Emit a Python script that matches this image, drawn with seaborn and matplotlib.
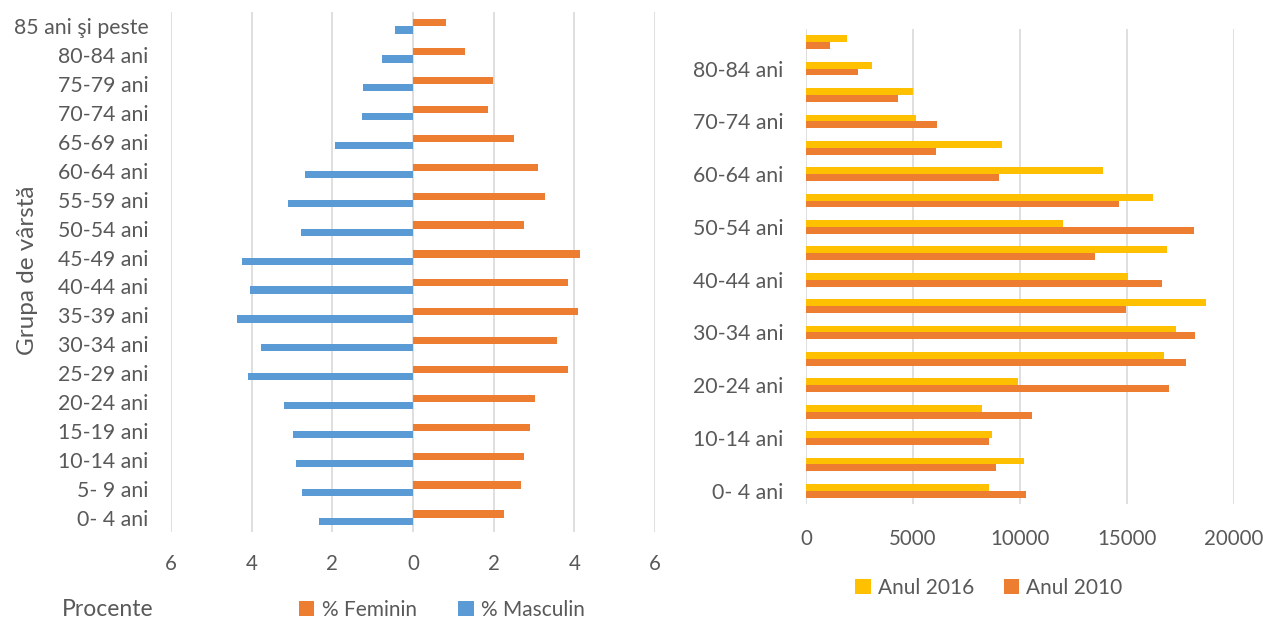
import matplotlib
matplotlib.use("Agg")
import matplotlib.pyplot as plt
import seaborn as sns
import pandas as pd

# ---- data ----
groups = ["0- 4 ani", "5- 9 ani", "10-14 ani", "15-19 ani", "20-24 ani", "25-29 ani",
          "30-34 ani", "35-39 ani", "40-44 ani", "45-49 ani", "50-54 ani", "55-59 ani",
          "60-64 ani", "65-69 ani", "70-74 ani", "75-79 ani", "80-84 ani", "85 ani şi peste"]
feminin = [2.25, 2.67, 2.74, 2.90, 3.02, 3.84, 3.56, 4.10, 3.85, 4.15, 2.74, 3.27,
           3.10, 2.51, 1.85, 1.98, 1.29, 0.83]
masculin = [2.32, 2.75, 2.89, 2.98, 3.19, 4.08, 3.76, 4.36, 4.03, 4.23, 2.78, 3.09,
            2.67, 1.94, 1.27, 1.23, 0.77, 0.45]
anul_2016 = [8530, 10200, 8700, 8230, 9890, 16710, 17300, 18700, 15050, 16890, 12030, 16220,
             13880, 9160, 5120, 4980, 3080, 1920]
anul_2010 = [10280, 8860, 8530, 10540, 16960, 17740, 18180, 14930, 16640, 13500, 18130, 14630,
             9040, 6080, 6140, 4280, 2410, 1100]
left_ticks = [-6, -4, -2, 0, 2, 4, 6]
right_ticks = [0, 5000, 10000, 15000, 20000]

ORANGE = "#ED7D31"
BLUE = "#5B9BD5"
YELLOW = "#FFC000"
GRID = "#D9D9D9"
TXT = "#595959"

sns.set_style("white")
plt.rcParams["font.family"] = ["Lato", "DejaVu Sans"]
FSY = 15.3
FSX = 14.8
FSL = 15

fig = plt.figure(figsize=(12.63, 6.21), dpi=100)
W, H = 1263, 621

def add_axes(x0, y0, x1, y1):
    return fig.add_axes([x0 / W, 1 - y1 / H, (x1 - x0) / W, (y1 - y0) / H])

# ---- left chart ----
axL = add_axes(171, 12, 655, 532)
dfL = pd.DataFrame({
    "grupa": groups * 2,
    "sex": ["% Feminin"] * len(groups) + ["% Masculin"] * len(groups),
    "val": feminin + [-m for m in masculin],
})
sns.barplot(data=dfL, y="grupa", x="val", hue="sex", order=groups[::-1],
            hue_order=["% Feminin", "% Masculin"], palette=[ORANGE, BLUE], saturation=1,
            width=0.5, orient="h", errorbar=None, linewidth=0, ax=axL)
hL, lL = axL.get_legend_handles_labels()
axL.get_legend().remove()
axL.set_xlim(-6, 6)
axL.set_xticks(left_ticks)
axL.set_xticklabels([str(abs(t)) for t in left_ticks])
axL.set_xlabel("")
axL.set_ylabel("")
for s in axL.spines.values():
    s.set_visible(False)
axL.grid(axis="x", color=GRID, linewidth=1.2)
axL.grid(axis="y", visible=False)
axL.set_axisbelow(True)
axL.tick_params(axis="y", length=0, pad=16, labelsize=FSY, labelcolor=TXT)
axL.tick_params(axis="x", length=0, pad=16, labelsize=FSX, labelcolor=TXT)

fig.text(28 / W, 1 - 270 / H, "Grupa de vârstă", rotation=90, ha="center", va="center",
         fontsize=17.5, color=TXT)
fig.text(62 / W, 1 - 610 / H, "Procente", ha="left", va="center", fontsize=16.5, color=TXT)
fig.legend(hL, lL, loc="center", bbox_to_anchor=(442 / W, 1 - 610 / H), ncol=2, frameon=False,
           fontsize=FSL, labelcolor=TXT, handlelength=0.75, handleheight=0.75,
           handletextpad=0.35, columnspacing=2.0, borderpad=0)

# ---- right chart ----
axR = add_axes(806, 29, 1234, 504)
dfR = pd.DataFrame({
    "grupa": groups * 2,
    "an": ["Anul 2016"] * len(groups) + ["Anul 2010"] * len(groups),
    "val": anul_2016 + anul_2010,
})
sns.barplot(data=dfR, y="grupa", x="val", hue="an", order=groups[::-1],
            hue_order=["Anul 2016", "Anul 2010"], palette=[YELLOW, ORANGE], saturation=1,
            width=0.52, orient="h", errorbar=None, linewidth=0, ax=axR)
hR, lR = axR.get_legend_handles_labels()
axR.get_legend().remove()
axR.set_xlim(0, 20000)
axR.set_xticks(right_ticks)
axR.set_xticklabels([str(t) for t in right_ticks])
rev = groups[::-1]
axR.set_yticks(range(len(rev)))
axR.set_yticklabels([g if (len(rev) - 1 - i) % 2 == 0 else "" for i, g in enumerate(rev)])
axR.set_xlabel("")
axR.set_ylabel("")
for s in axR.spines.values():
    s.set_visible(False)
axR.grid(axis="x", color=GRID, linewidth=1.2)
axR.grid(axis="y", visible=False)
axR.set_axisbelow(True)
axR.tick_params(axis="y", length=0, pad=16, labelsize=FSY, labelcolor=TXT)
axR.tick_params(axis="x", length=0, pad=18, labelsize=FSX, labelcolor=TXT)
fig.legend(hR, lR, loc="center", bbox_to_anchor=(989 / W, 1 - 588 / H), ncol=2, frameon=False,
           fontsize=FSL, labelcolor=TXT, handlelength=0.75, handleheight=0.75,
           handletextpad=0.35, columnspacing=1.4, borderpad=0)

fig.savefig("out.png", dpi=100)
